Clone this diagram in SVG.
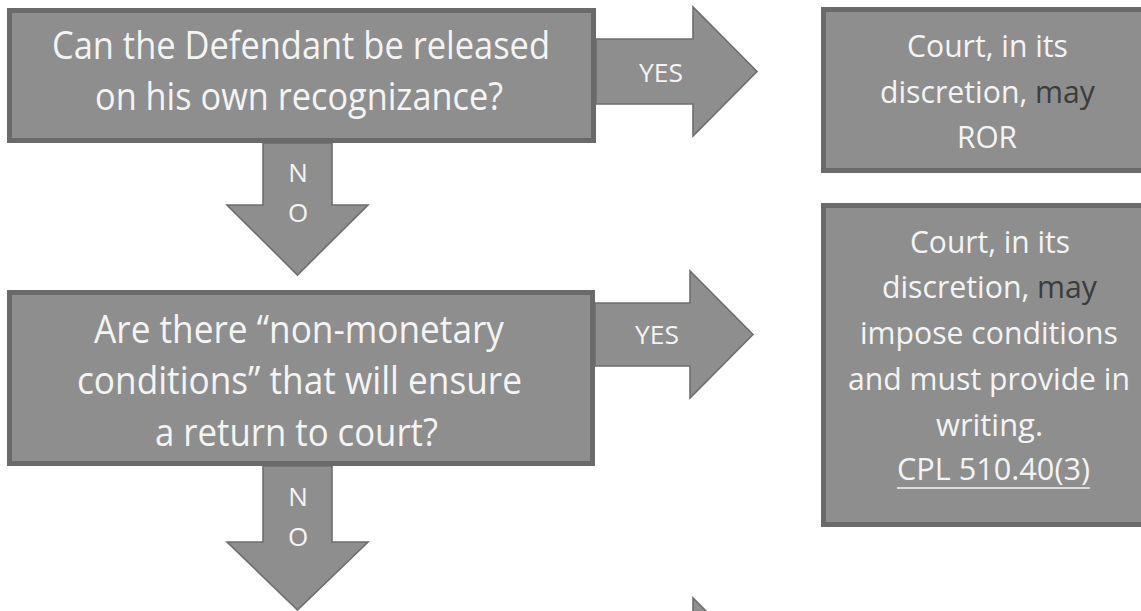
<svg xmlns="http://www.w3.org/2000/svg" width="1141" height="611" viewBox="0 0 1141 611">
  <style>
    .box { fill: #8e8e8e; stroke: #6a6a6a; stroke-width: 5; }
    .arrow { fill: #8e8e8e; stroke: #6e6e6e; stroke-width: 1.6; stroke-linejoin: miter; }
    .q { font-family: "Open Sans", "Noto Sans", sans-serif; font-size: 38px; fill: #f4f4f4; text-anchor: middle; }
    .a { font-family: "Open Sans", "Noto Sans", sans-serif; font-size: 31px; fill: #f4f4f4; text-anchor: middle; }
    .lbl { font-family: "Open Sans", "Noto Sans", sans-serif; font-size: 26px; fill: #f4f4f4; text-anchor: middle; }
    .dark { fill: #3c3c3c; }
    .uline { stroke: #f4f4f4; stroke-width: 1.6; }
  </style>
  <rect width="1141" height="611" fill="#ffffff"/>

  <!-- block arrows between the decision boxes and outcomes -->
  <g id="connectors">
    <g id="yes-1">
      <polygon class="arrow" points="596,39 693,39 693,7 757,71.5 693,136 693,104 596,104"/>
      <text class="lbl" x="661" y="82" textLength="44" lengthAdjust="spacingAndGlyphs">YES</text>
    </g>
    <g id="no-1">
      <polygon class="arrow" points="263,143 332,143 332,205 368,205 297.5,275 227,205 263,205"/>
      <text class="lbl" x="298" y="182">N</text>
      <text class="lbl" x="298" y="222">O</text>
    </g>
    <g id="yes-2">
      <polygon class="arrow" points="595,303 690,303 690,271 753,334.5 690,398 690,366 595,366"/>
      <text class="lbl" x="657" y="344" textLength="44" lengthAdjust="spacingAndGlyphs">YES</text>
    </g>
    <g id="no-2">
      <polygon class="arrow" points="263,466 332,466 332,542 368,542 297.5,610 227,542 263,542"/>
      <text class="lbl" x="298" y="506">N</text>
      <text class="lbl" x="298" y="546">O</text>
    </g>
    <g id="yes-3">
      <polygon class="arrow" points="596,630 693,630 693,598 757,662 693,727 693,694 596,694"/>
    </g>
  </g>

  <!-- question: release on recognizance -->
  <g id="q-ror">
    <rect class="box" x="9.5" y="10.5" width="584" height="130"/>
    <text class="q" x="301" y="59" textLength="498" lengthAdjust="spacingAndGlyphs">Can the Defendant be released</text>
    <text class="q" x="299" y="110" textLength="408" lengthAdjust="spacingAndGlyphs">on his own recognizance?</text>
  </g>

  <!-- outcome: ROR -->
  <g id="out-ror">
    <rect class="box" x="823.5" y="9.5" width="333" height="161"/>
    <text class="a" x="987.5" y="57" textLength="161" lengthAdjust="spacingAndGlyphs">Court, in its</text>
    <text class="a" x="987.5" y="103" textLength="215" lengthAdjust="spacingAndGlyphs">discretion, <tspan class="dark">may</tspan></text>
    <text class="a" x="987" y="148" textLength="60" lengthAdjust="spacingAndGlyphs">ROR</text>
  </g>

  <!-- question: non-monetary conditions -->
  <g id="q-conditions">
    <rect class="box" x="9.5" y="292.5" width="583" height="171"/>
    <text class="q" x="299" y="343" textLength="410" lengthAdjust="spacingAndGlyphs">Are there “non-monetary</text>
    <text class="q" x="299.5" y="394" textLength="445" lengthAdjust="spacingAndGlyphs">conditions” that will ensure</text>
    <text class="q" x="296.5" y="446" textLength="283" lengthAdjust="spacingAndGlyphs">a return to court?</text>
  </g>

  <!-- outcome: conditions in writing -->
  <g id="out-conditions">
    <rect class="box" x="823.5" y="205.5" width="333" height="319"/>
    <text class="a" x="990" y="253" textLength="160" lengthAdjust="spacingAndGlyphs">Court, in its</text>
    <text class="a" x="989.5" y="298" textLength="215" lengthAdjust="spacingAndGlyphs">discretion, <tspan class="dark">may</tspan></text>
    <text class="a" x="989" y="344" textLength="258" lengthAdjust="spacingAndGlyphs">impose conditions</text>
    <text class="a" x="989" y="390" textLength="282" lengthAdjust="spacingAndGlyphs">and must provide in</text>
    <text class="a" x="989.5" y="436" textLength="107" lengthAdjust="spacingAndGlyphs">writing.</text>
    <text class="a" x="993.5" y="480" textLength="193" lengthAdjust="spacingAndGlyphs">CPL 510.40(3)</text>
    <!-- statute citation underline -->
    <line class="uline" x1="897" y1="488" x2="1090" y2="488"/>
  </g>
</svg>
